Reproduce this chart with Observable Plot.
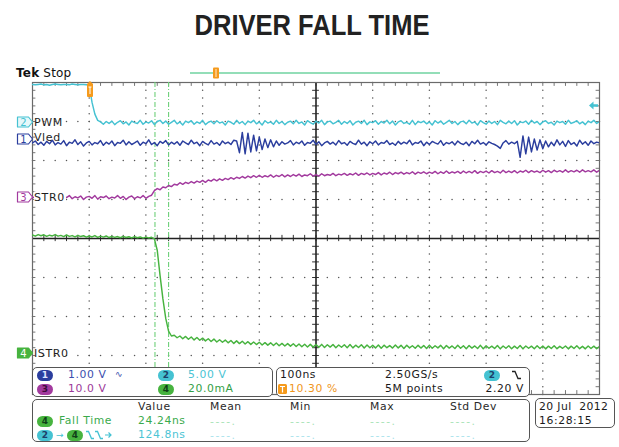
<!DOCTYPE html>
<html><head><meta charset="utf-8">
<script src="https://cdn.jsdelivr.net/npm/d3@7"></script>
<script src="https://cdn.jsdelivr.net/npm/@observablehq/plot@0.6"></script>
<style>
html,body{margin:0;padding:0;background:#fff;}
body{width:619px;height:447px;position:relative;overflow:hidden;font-family:"DejaVu Sans",sans-serif;}
#title{position:absolute;left:0;top:0;}
#chart{position:absolute;left:0;top:60px;}
.ov{position:absolute;white-space:nowrap;line-height:1;}
.panel{position:absolute;border:1.2px solid #555;border-radius:5px;background:#fff;box-sizing:border-box;}
.pill{position:absolute;height:11px;width:16px;border-radius:6px;font-size:9px;font-weight:bold;text-align:center;line-height:11px;}
</style></head>
<body>
<svg id="title" width="619" height="60"><text x="312" y="35" text-anchor="middle" font-family="'Liberation Sans Narrow','Liberation Sans',Arial,sans-serif" font-weight="bold" font-size="30" textLength="235" lengthAdjust="spacingAndGlyphs" fill="#222">DRIVER FALL TIME</text></svg>
<div id="chart"></div>
<script>
// ---- sample clock (ns) ----
const tStart = -103, tStep = 5;
// ---- channel 2: PWM (V) ----
const pwmV = [4.9,4.85,4.9,4.95,4.85,4.9,4.8,4.9,4.95,4.9,4.85,4.9,4.9,4.85,4.95,4.9,4.85,4.9,4.9,4.85,4.8,
2.6,1.1,0.3,
0.1,-0.2,0.15,-0.1,0.2,-0.25,0.05,0.25,-0.15,0.1,
-0.3,0.2,0,-0.1,0.3,-0.2,0.1,-0.05,0.25,-0.25,
0.15,0.3,-0.1,0.2,-0.2,0.05,0.3,-0.15,0.1,-0.3,
0.2,0,0.25,-0.2,0.1,-0.1,0.3,-0.25,0.05,0.2,
-0.15,0.25,-0.05,0.1,-0.3,0.2,0.05,-0.2,0.3,-0.1,
0.15,-0.25,0.2,0,0.3,-0.15,0.1,-0.3,0.25,-0.05,
0.1,-0.2,0.3,-0.1,0.15,-0.25,0.05,0.2,-0.15,0.3,
-0.1,0.1,-0.3,0.25,0,-0.2,0.2,-0.05,0.3,-0.25,
0.1,0.2,-0.15,0.05,0.3,-0.2,0.15,-0.1,0.25,-0.3,
0.05,0.2,-0.1,0.3,-0.25,0.1,0,0.25,-0.2,0.15,
-0.05,0.3,-0.15,0.2,-0.3,0.1,0.25,-0.1,0.05,-0.2,
0.3,-0.25,0.15,0,0.2,-0.15,0.1,-0.3,0.25,-0.05,
0.2,-0.2,0.05,0.3,-0.1,0.15,-0.25,0.1,0.2,-0.15,
0.3,-0.05,0.1,-0.3,0.25,0,-0.2,0.2,-0.1,0.15,
-0.25,0.3,0.05,-0.15,0.2,-0.1,0.25,-0.3,0.1,0,
0.2,-0.2,0.3,-0.05,0.15,-0.25,0.1,0.25,-0.1,0.05,
-0.3,0.2,0,0.15,-0.2,0.3,-0.1,0.05,0.25,-0.15,
0.1,-0.25,0.2,0,0.3,-0.1,0.15];
// ---- channel 1: Vled (V) ----
const vledV = [-0.1,-0.05,-0.14,-0.08,-0.16,-0.06,-0.12,-0.03,-0.15,-0.09,
-0.13,-0.04,-0.17,-0.08,-0.11,-0.02,-0.14,-0.07,-0.18,-0.1,
-0.06,-0.15,-0.09,-0.12,-0.04,-0.16,-0.08,-0.13,-0.05,-0.17,
-0.09,-0.11,-0.03,-0.15,-0.07,-0.14,-0.1,-0.05,-0.16,-0.08,
-0.12,-0.02,-0.14,-0.09,-0.17,-0.06,-0.11,-0.04,-0.15,-0.08,
-0.13,-0.07,-0.16,-0.05,-0.1,-0.14,-0.03,-0.12,-0.08,-0.17,
-0.06,-0.11,-0.15,-0.04,-0.13,-0.09,-0.16,-0.05,-0.12,-0.08,
-0.14,-0.03,-0.05,-0.35,0.17,-0.38,0.15,-0.33,0.1,-0.3,
0.05,-0.27,0,-0.22,-0.02,-0.2,-0.05,-0.16,-0.07,-0.13,
-0.1,-0.04,-0.15,-0.08,-0.12,-0.05,-0.16,-0.09,-0.11,-0.03,
-0.14,-0.07,-0.17,-0.1,-0.06,-0.13,-0.08,-0.15,-0.04,-0.12,
-0.09,-0.16,-0.06,-0.11,-0.14,-0.03,-0.13,-0.08,-0.17,-0.07,
-0.12,-0.05,-0.15,-0.09,-0.11,-0.04,-0.14,-0.1,-0.16,-0.06,
-0.13,-0.08,-0.12,-0.03,-0.15,-0.09,-0.11,-0.05,-0.17,-0.08,
-0.14,-0.06,-0.1,-0.13,-0.04,-0.16,-0.09,-0.12,-0.07,-0.15,
-0.05,-0.11,-0.14,-0.08,-0.17,-0.06,-0.12,-0.03,-0.13,-0.09,
-0.15,-0.07,-0.11,-0.14,-0.18,-0.24,-0.1,-0.04,-0.13,-0.08,
-0.12,-0.06,-0.47,0.08,-0.38,0.05,-0.33,0,-0.28,-0.02,
-0.25,-0.05,-0.2,-0.08,-0.17,-0.02,-0.15,-0.06,-0.19,-0.04,
-0.14,-0.09,-0.18,-0.03,-0.13,-0.07,-0.16,-0.05,-0.12,-0.08,
-0.1];
// ---- channel 3: STR0 (V) ----
const str0V = [0.2,-0.3,0.4,-0.1,0.3,-0.4,0.1,0.5,-0.2,0.2,
-0.4,0.3,0,0.5,-0.3,0.2,-0.1,0.4,-0.5,0.1,
0.3,-0.2,0.5,-0.4,0.2,0,0.4,-0.3,0.1,-0.1,
0.5,-0.2,0.3,-0.5,0.1,0.4,-0.3,0.2,-0.1,0.5,
-0.2,0.3,0.6,1.8,2.3,2.0,2.7,2.5,3.1,2.8,
3.4,3.2,3.8,3.4,3.9,3.6,4.1,3.7,4.2,3.9,
4.4,3.9,4.5,4.2,4.7,4.3,4.8,4.4,4.9,4.6,
5.1,4.7,5.2,4.9,5.4,5.0,5.5,5.1,5.6,5.2,
5.7,5.2,5.6,5.3,5.8,5.2,5.7,5.4,5.9,5.3,
5.8,5.4,5.9,5.5,6.0,5.4,5.8,5.6,6.1,5.5,
5.9,5.5,6.1,5.6,5.9,5.7,6.2,5.6,6.0,5.8,
6.2,5.7,6.1,5.8,6.3,5.7,6.2,5.9,6.3,5.8,
6.2,5.9,6.4,5.8,6.3,6.0,6.5,5.9,6.4,6.1,
6.5,6.0,6.4,6.1,6.6,6.0,6.5,6.2,6.6,6.1,
6.5,6.2,6.7,6.1,6.6,6.2,6.8,6.2,6.6,6.3,
6.7,6.2,6.8,6.3,6.7,6.3,6.9,6.2,6.7,6.4,
6.8,6.3,6.9,6.4,6.7,6.3,7.0,6.4,6.8,6.4,
6.9,6.3,6.8,6.5,7.0,6.4,6.9,6.5,6.8,6.4,
7.0,6.5,6.9,6.4,7.0,6.6,6.9,6.5,7.1,6.5,
6.9,6.6,7.0,6.5,7.1,6.6,6.9,6.6,7.1,6.5,
7.0];
// ---- channel 4: ISTR0 (mA) ----
const istr0mA = [60.8,60.2,61.0,60.4,60.9,60.1,60.7,60.3,61.0,60.2,
60.6,60.0,60.8,60.1,60.5,59.8,60.6,60.0,60.4,59.7,
60.3,59.8,60.5,59.6,60.2,59.7,60.3,59.5,60.1,59.6,
60.0,59.4,60.1,59.5,59.9,59.3,60.0,59.4,59.8,59.2,
59.7,59.3,59.6,58.8,53.0,40.0,28.0,18.0,11.5,9.0,
9.4,8.1,9.0,7.6,8.8,7.3,8.5,7.0,8.2,6.8,
7.9,6.5,7.6,6.2,7.4,5.9,7.1,5.8,6.9,5.5,
6.7,5.2,6.5,5.1,6.3,4.9,6.1,4.7,5.9,4.6,
5.8,4.4,5.6,4.3,5.5,4.1,5.4,4.0,5.2,3.9,
5.1,3.8,5.0,3.6,4.9,3.5,4.8,3.4,4.7,3.3,
4.6,3.2,4.7,3.1,4.5,3.3,4.6,3.0,4.4,3.2,
4.5,3.0,4.6,2.9,4.3,3.1,4.5,2.8,4.4,3.0,
4.2,2.9,4.4,2.7,4.3,3.0,4.1,2.8,4.4,2.9,
4.2,2.6,4.3,2.9,4.0,2.7,4.2,2.8,4.1,2.6,
4.3,2.7,4.0,2.9,4.2,2.5,4.1,2.8,3.9,2.6,
4.2,2.7,4.0,2.5,4.1,2.8,3.9,2.6,4.2,2.5,
4.0,2.7,3.8,2.6,4.1,2.4,3.9,2.7,4.0,2.5,
3.8,2.6,4.1,2.4,3.9,2.7,3.8,2.5,4.0,2.6,
3.9,2.4,3.8,2.6,4.0,2.5,3.7,2.7,3.9,2.4,
3.8,2.6,4.0,2.5,3.7,2.4,3.9,2.6,3.8,2.5,
3.6];
// ---- cursors, trigger, readouts ----
const cursorTimes = [113, 137];
const triggerTime = 0;
const triggerLevelV = 2.2;
const channelIds = [2, 1, 3, 4];
const channelNames = ["PWM", "Vled", "STR0", "ISTR0"];
const channelColors = ["#45c2d2", "#2b3e9e", "#a23a9e", "#47b33f"];
const channelOffsets = [2.97, 2.55, 1.05, -2.95];   // divisions
const channelPerDiv = [5, 1, 10, 20];
const channelValues = [pwmV, vledV, str0V, istr0mA];
const scaleLabels = ["1.00 V", "5.00 V", "10.0 V", "20.0mA"];
const timebase = "100ns", sampleRate = "2.50GS/s", triggerPos = "10.30 %", recordLength = "5M points", triggerLevel = "2.20 V";
const measHeaders = ["Value", "Mean", "Min", "Max", "Std Dev"];
const measNames = ["Fall Time", ""];
const measValues = ["24.24ns", "124.8ns"];
const dateStr = "20 Jul\u00a0 2012", timeStr = "16:28:15";

const xDom = [-103, 897];
const yDom = [-4, 4];
const xCenter = (xDom[0] + xDom[1]) / 2;
const majorX = d3.range(0, 11).map(k => xDom[0] + k * 100);
const majorY = d3.range(-4, 5);
const minorX = d3.range(0, 51).map(k => xDom[0] + k * 20);
const minorY = d3.range(-20, 21).map(k => k / 5);
const gridPts = [];
for (const y of majorY) if (y !== 0 && Math.abs(y) !== 4) for (const x of minorX) gridPts.push({x, y});
for (const x of majorX) if (x !== xCenter && x !== xDom[0] && x !== xDom[1]) for (const y of minorY) gridPts.push({x, y});

const traceMarks = channelIds.map((id, c) => Plot.line(
  channelValues[c].map((v, i) => ({t: tStart + i * tStep, d: channelOffsets[c] + v / channelPerDiv[c]})),
  {x: "t", y: "d", stroke: channelColors[c], strokeWidth: 1.45, clip: true}));

const plot = Plot.plot({
  width: 619, height: 336,
  marginLeft: 32, marginRight: 20, marginTop: 22, marginBottom: 2,
  x: {domain: xDom, axis: null},
  y: {domain: yDom, axis: null},
  style: {background: "transparent"},
  marks: [
    Plot.dot(gridPts, {x: "x", y: "y", r: 0.75, fill: "#555", stroke: null}),
    Plot.ruleX(minorX, {x: d => d, y1: 4, y2: 3.9, stroke: "#777"}),
    Plot.ruleX(minorX, {x: d => d, y1: -4, y2: -3.9, stroke: "#777"}),
    Plot.ruleY(minorY, {y: d => d, x1: xDom[0], x2: xDom[0] + 6, stroke: "#777"}),
    Plot.ruleY(minorY, {y: d => d, x1: xDom[1] - 6, x2: xDom[1], stroke: "#777"}),
    Plot.ruleX(minorX, {x: d => d, y1: -0.08, y2: 0.08, stroke: "#333"}),
    Plot.ruleY(minorY, {y: d => d, x1: xCenter - 6, x2: xCenter + 6, stroke: "#333"}),
    Plot.ruleY([0], {stroke: "#222", strokeWidth: 1.6}),
    Plot.ruleX([xCenter], {stroke: "#222", strokeWidth: 1.6}),
    Plot.frame({stroke: "#6a6a6a", strokeWidth: 1.2}),
    Plot.ruleX(cursorTimes, {stroke: "#6fd07a", strokeWidth: 1.1, strokeDasharray: "5,2,1,2"}),
    ...traceMarks
  ]
});
document.getElementById("chart").appendChild(plot);

const xs = plot.scale("x"), ys = plot.scale("y");
const X = d3.scaleLinear(xs.domain, xs.range);
const Y = d3.scaleLinear(ys.domain, ys.range);
const TOP = 60;

function put(html, x, y, style = {}, anchor = "left") {
  const el = document.createElement("div");
  el.className = "ov";
  el.innerHTML = html;
  el.style.left = x + "px";
  el.style.top = y + "px";
  el.style.transform = anchor === "right" ? "translate(-100%,-50%)" : anchor === "center" ? "translate(-50%,-50%)" : "translateY(-50%)";
  Object.assign(el.style, style);
  document.body.appendChild(el);
  return el;
}
function panel(x, y, w, h) {
  const el = document.createElement("div");
  el.className = "panel";
  Object.assign(el.style, {left: x + "px", top: y + "px", width: w + "px", height: h + "px"});
  document.body.appendChild(el);
}
function pill(id, x, y) {
  const c = channelColors[channelIds.indexOf(id)];
  const txt = id === 1 ? "#dfe4ff" : id === 2 ? "#1c3f6a" : id === 3 ? "#3d0b3b" : "#0f3f18";
  const el = document.createElement("div");
  el.className = "pill";
  el.textContent = id;
  Object.assign(el.style, {left: x + "px", top: (y - 5.5) + "px", background: c, color: txt});
  document.body.appendChild(el);
}
function txt(s, x, y, color = "#1a1a1a", anchor = "left", extra = {}) {
  return put(s, x, y, Object.assign({fontSize: "10.8px", letterSpacing: "0.6px", color}, extra), anchor);
}

// Top status line
put('<b>Tek</b> Stop', 16, 73, {fontSize: "12px", color: "#111", letterSpacing: "0.2px"});
put('<svg width="252" height="12"><line x1="0" y1="6" x2="250" y2="6" stroke="#6fd3a0" stroke-width="1.5"/><rect x="23" y="0.5" width="6" height="11" rx="1" fill="#f59a1c"/><line x1="26" y1="2" x2="26" y2="10" stroke="#fff" stroke-width="0.8"/></svg>', 190, 74);

// trigger position marker
const tx = X(triggerTime);
put('<svg width="10" height="17"><path d="M5,0 L8,3 L8,15 Q8,16 7,16 L3,16 Q2,16 2,15 L2,3 Z" fill="#f59a1c"/><path d="M3.5,6 H6.5 M5,6 V13" stroke="#fff" stroke-width="1"/></svg>', tx - 5, TOP + 22 + 8.5);

// trigger level arrow (ch2)
const ly = TOP + Y(channelOffsets[0] + triggerLevelV / channelPerDiv[0]);
put('<svg width="9" height="9"><path d="M0,4.5 L4.5,0.5 L4.5,3.2 L9,3.2 L9,5.8 L4.5,5.8 L4.5,8.5 Z" fill="#45c2d2"/></svg>', 589, ly);

// channel tags at left
channelIds.forEach((id, c) => {
  const y = TOP + Y(channelOffsets[c]);
  const col = channelColors[c];
  const filled = id === 4;
  put(`<svg width="19" height="13" style="display:block;overflow:visible"><path d="M1.5,1.5 H12.5 L16.5,6.5 L12.5,11.5 H1.5 Z" fill="${filled ? col : (id === 2 ? '#e6f8fa' : '#fff')}" stroke="${col}" stroke-width="1.2" stroke-linejoin="round"/><text x="7.5" y="10.5" text-anchor="middle" font-size="10" font-family="DejaVu Sans" fill="${filled ? '#fff' : col}">${id}</text></svg>`, 16, y);
  put(channelNames[c], 34, y - (id === 1 ? 1.5 : 0), {fontSize: "11px", letterSpacing: "0.6px", color: "#1e1e1e", background: id === 3 ? "#fff" : "transparent", paddingRight: "1px"});
});

// Panel A: vertical scales
panel(32, 367, 241, 30);
pill(1, 37, 375); txt(scaleLabels[0], 68, 375, "#3b4fae");
txt("\u223F", 115, 374, "#3b4fae", "left", {fontSize: "9px"});
pill(2, 158, 375); txt(scaleLabels[1], 188, 375, "#4cc4d4");
pill(3, 37, 389); txt(scaleLabels[2], 68, 389, "#9c3999");
pill(4, 158, 389); txt(scaleLabels[3], 188, 389, "#34a046");

// Panel B: timebase / trigger
panel(276, 367, 254, 30);
txt(timebase, 280, 375);
txt(sampleRate, 385, 375);
pill(2, 484, 375);
put('<svg width="9" height="10"><path d="M0,1.5 H3 L6,8.5 H9" stroke="#222" stroke-width="1.3" fill="none"/></svg>', 512, 375);
put('<svg width="9" height="10"><rect x="0" y="0" width="9" height="10" rx="1.5" fill="#f59a1c"/><path d="M2,2.5 H7 M4.5,2.5 V8.5" stroke="#fff" stroke-width="1.2"/></svg>', 278, 389);
txt(triggerPos, 289, 389, "#f0961c");
txt(recordLength, 385, 389);
txt(triggerLevel, 524, 389, "#1a1a1a", "right");

// Panel C: measurements
panel(32, 399, 498, 43);
const colX = [138, 210, 290, 370, 450];
measHeaders.forEach((h, i) => txt(h, colX[i], 407, "#2a2a2a"));
pill(4, 37, 421);
txt(measNames[0], 59, 421, "#3aaa4c");
txt(measValues[0], colX[0], 421, "#3aaa4c");
pill(2, 37, 435);
txt("\u2192", 56, 435, "#45c2d2", "left", {fontSize: "9px"});
pill(4, 67, 435);
put('<svg width="26" height="10"><path d="M0,1.5 H2.5 L5.5,8.5 H8 M9,1.5 H11.5 L14.5,8.5 H17" stroke="#45c2d2" stroke-width="1.3" fill="none"/><path d="M19,5 H25 M22.5,2.5 L25,5 L22.5,7.5" stroke="#45c2d2" stroke-width="1.2" fill="none"/></svg>', 86, 435);
txt(measValues[1], colX[0], 435, "#4cc4d4");
[1, 2, 3, 4].forEach(i => {
  txt("----.", colX[i], 422, "#a7e3b6", "left", {letterSpacing: "1.5px"});
  txt("----.", colX[i], 436, "#a8e3ec", "left", {letterSpacing: "1.5px"});
});

// Panel D: date
panel(535, 398, 80, 30);
txt(dateStr, 539, 407, "#1a1a1a", "left", {letterSpacing: "0.4px"});
txt(timeStr, 539, 421, "#1a1a1a", "left", {letterSpacing: "0.6px"});
</script>
</body></html>
